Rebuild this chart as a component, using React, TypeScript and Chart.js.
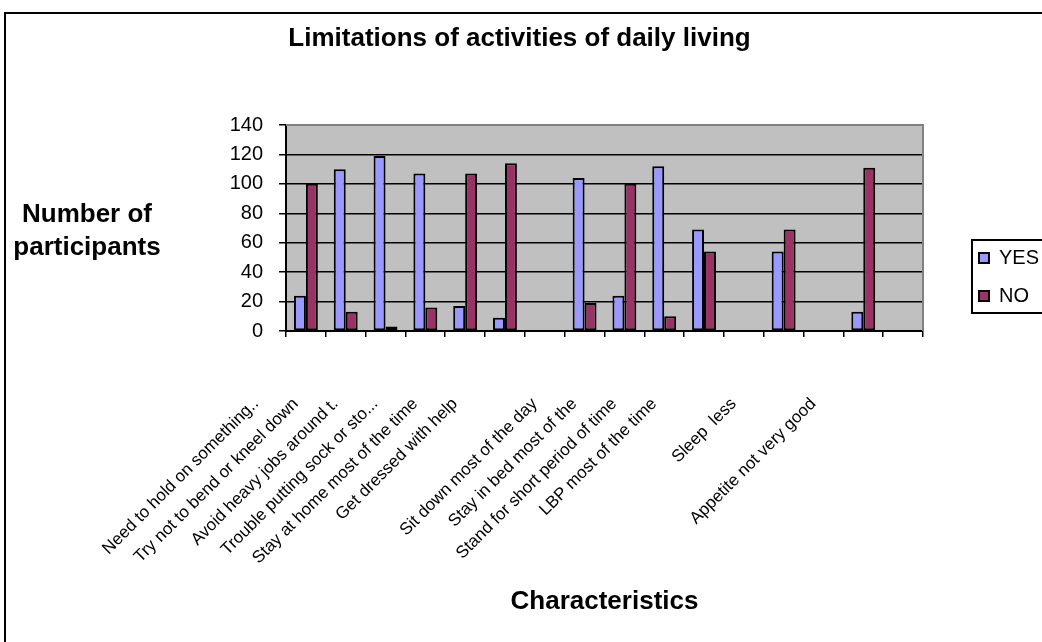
import React, { useEffect, useRef } from 'react';
import { Chart, registerables } from 'chart.js';

Chart.register(...registerables);

const chartTitle = 'Limitations of activities of daily living';
const xAxisTitle = 'Characteristics';
const yAxisTitleLines = ['Number of', 'participants'];

const categories = [
  'Need to hold on something..',
  'Try not to bend or kneel down',
  'Avoid heavy jobs around t.',
  'Trouble putting sock or sto...',
  'Stay at home most of the time',
  'Get dressed with help',
  '',
  'Sit down most of the day',
  'Stay in bed most of the',
  'Stand for short period of time',
  'LBP most of the time',
  '',
  'Sleep  less',
  '',
  'Appetite not very good',
  '',
];

const yesValues = [24, 110, 119, 107, 17, 9, null, 104, 24, 112, 69, null, 54, null, 13, null];
const noValues = [100, 13, 3, 16, 107, 114, null, 19, 100, 10, 54, null, 69, null, 111, null];

const seriesNames = ['YES', 'NO'];
const seriesColors = ['#9999FF', '#993366'];

const yMin = 0;
const yMax = 140;
const yStep = 20;

const FONT = '"Liberation Sans", Arial, Helvetica, sans-serif';

const plotBackground = {
  id: 'plotBackground',
  beforeDraw(chart: any) {
    const { ctx, chartArea } = chart;
    if (!chartArea) return;
    ctx.save();
    ctx.fillStyle = '#C0C0C0';
    ctx.fillRect(chartArea.left, chartArea.top, chartArea.right - chartArea.left, chartArea.bottom - chartArea.top);
    ctx.restore();
  },
  beforeDatasetsDraw(chart: any) {
    const { ctx, chartArea } = chart;
    ctx.save();
    ctx.strokeStyle = '#808080';
    ctx.lineWidth = 2;
    ctx.beginPath();
    ctx.moveTo(chartArea.left, chartArea.top);
    ctx.lineTo(chartArea.right, chartArea.top);
    ctx.lineTo(chartArea.right, chartArea.bottom);
    ctx.stroke();
    ctx.restore();
  },
};

const yAxisTitle = {
  id: 'yAxisTitle',
  afterDraw(chart: any) {
    const { ctx, chartArea } = chart;
    ctx.save();
    ctx.font = 'bold 26px ' + FONT;
    ctx.fillStyle = '#000';
    ctx.textAlign = 'center';
    ctx.textBaseline = 'alphabetic';
    const cx = chartArea.left - 199;
    const cy = (chartArea.top + chartArea.bottom) / 2;
    yAxisTitleLines.forEach((line, i) => ctx.fillText(line, cx, cy - 6 + i * 33));
    ctx.restore();
  },
};

const legendFrame = {
  id: 'legendFrame',
  afterDraw(chart: any) {
    const lg = chart.legend;
    const hb = lg && lg.legendHitBoxes;
    if (!hb || !hb.length) return;
    const { ctx } = chart;
    const first = hb[0];
    const last = hb[hb.length - 1];
    const left = first.left - 7;
    const top = first.top - 8;
    const bottom = last.top + last.height + 7;
    const right = lg.right + 40;
    ctx.save();
    ctx.strokeStyle = '#000';
    ctx.lineWidth = 2;
    ctx.strokeRect(left, top, right - left, bottom - top);
    ctx.restore();
  },
};

export default function App() {
  const canvasRef = useRef<HTMLCanvasElement | null>(null);

  useEffect(() => {
    if (!canvasRef.current) return;
    Chart.defaults.font.family = FONT;
    Chart.defaults.color = '#000';
    const chart = new Chart(canvasRef.current, {
      type: 'bar',
      data: {
        labels: categories,
        datasets: [
          {
            label: seriesNames[0],
            data: yesValues,
            backgroundColor: seriesColors[0],
            borderColor: '#000',
            borderWidth: 2,
            borderSkipped: false,
            categoryPercentage: 0.6,
            barPercentage: 1,
          },
          {
            label: seriesNames[1],
            data: noValues,
            backgroundColor: seriesColors[1],
            borderColor: '#000',
            borderWidth: 2,
            borderSkipped: false,
            categoryPercentage: 0.6,
            barPercentage: 1,
          },
        ],
      },
      options: {
        responsive: false,
        animation: false,
        events: [],
        layout: { padding: { left: 0, right: 41, top: 0, bottom: 0 } },
        plugins: {
          title: {
            display: true,
            text: chartTitle,
            color: '#000',
            font: { size: 26, weight: 'bold' },
            padding: { top: 9.4, bottom: 70.4 },
          },
          legend: {
            position: 'right',
            align: 'start',
            fullSize: false,
            title: { display: true, text: ' ', padding: 45.3, font: { size: 12 } },
            labels: {
              boxWidth: 10,
              boxHeight: 10,
              padding: 18,
              color: '#000',
              font: { size: 20 },
            },
          },
          tooltip: { enabled: false },
        },
        scales: {
          x: {
            grid: {
              display: true,
              drawOnChartArea: false,
              drawTicks: true,
              tickLength: 6,
              color: '#000',
              lineWidth: 1.5,
              offset: true,
            },
            border: { display: true, color: '#000', width: 2 },
            ticks: {
              autoSkip: false,
              minRotation: 45,
              maxRotation: 45,
              labelOffset: -50,
              padding: 57,
              color: '#000',
              font: { size: 17 },
            },
            title: {
              display: true,
              text: xAxisTitle,
              color: '#000',
              font: { size: 26, weight: 'bold' },
              padding: { top: 0, bottom: 56.4 },
            },
            afterFit: (s: any) => {
              s.height = 343;
            },
          },
          y: {
            min: yMin,
            max: yMax,
            ticks: { stepSize: yStep, padding: 16, color: '#000', font: { size: 20 } },
            grid: { color: '#000', lineWidth: 1.5, tickLength: 7, drawTicks: true },
            border: { display: true, color: '#000', width: 2 },
            afterFit: (s: any) => {
              s.width = 296;
            },
          },
          gap: {
            type: 'linear',
            position: 'right',
            display: true,
            grid: { display: false, drawTicks: false },
            border: { display: false },
            ticks: { display: false },
            afterFit: (s: any) => {
              s.width = 38;
            },
          },
        },
      } as any,
      plugins: [plotBackground, yAxisTitle, legendFrame],
    });
    return () => chart.destroy();
  }, []);

  return (
    <div style={{ position: 'fixed', left: 0, top: 0, width: 1042, height: 642, overflow: 'hidden', background: '#fff' }}>
      <div
        style={{
          position: 'absolute',
          left: 4,
          top: 12,
          width: 1200,
          height: 800,
          border: '2px solid #000',
          boxSizing: 'border-box',
        }}
      />
      <canvas
        ref={canvasRef}
        width={1100}
        height={660}
        style={{ position: 'absolute', left: -10, top: 14, width: '1100px', height: '660px' }}
      />
    </div>
  );
}
